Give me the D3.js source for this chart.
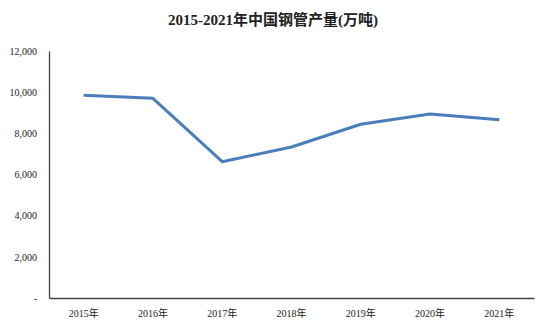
<!DOCTYPE html>
<html>
<head>
<meta charset="utf-8">
<script src="https://cdn.jsdelivr.net/npm/d3@7"></script>
<style>
  body { margin: 0; background: #fff; }
  text { font-family: "Liberation Serif", "Noto Sans CJK SC", serif; }
</style>
</head>
<body>
<div id="chart"></div>
<script>
// Data
const years = ['2015年', '2016年', '2017年', '2018年', '2019年', '2020年', '2021年'];
const output = [9848, 9702, 6622, 7336, 8439, 8939, 8662];
const yTicks = [0, 2000, 4000, 6000, 8000, 10000, 12000];

const width = 546;
const height = 322;
const margin = { top: 51, right: 12, bottom: 24, left: 49 };
const graphWidth = width - margin.left - margin.right;
const graphHeight = height - margin.top - margin.bottom;

const svg = d3.select('#chart')
  .append('svg')
  .attr('width', width)
  .attr('height', height);

svg.append('text')
  .attr('x', width / 2)
  .attr('y', 25)
  .attr('text-anchor', 'middle')
  .style('font-size', '15px')
  .style('font-weight', 'bold')
  .attr('fill', '#222')
  .text('2015-2021年中国钢管产量(万吨)');

const g = svg.append('g')
  .attr('transform', `translate(${margin.left},${margin.top})`);

const xScale = d3.scaleBand()
  .domain(years)
  .range([0, graphWidth]);

const yScale = d3.scaleLinear()
  .domain([0, 12000])
  .range([graphHeight, 0]);

const fmt = d => d === 0 ? '-' : d3.format(',')(d);

// Axes
g.append('g')
  .attr('transform', `translate(0,${graphHeight})`)
  .call(d3.axisBottom(xScale).tickSize(0).tickPadding(12))
  .call(a => a.select('.domain').attr('stroke', '#444').attr('stroke-width', 1.3))
  .call(a => a.selectAll('text').style('font-size', '10px').attr('fill', '#222').attr('font-family', '"Liberation Serif", "Noto Sans CJK SC", serif'));

g.append('g')
  .call(d3.axisLeft(yScale).tickValues(yTicks).tickFormat(fmt).tickSize(0).tickPadding(12))
  .call(a => a.select('.domain').attr('stroke', '#444').attr('stroke-width', 1.3))
  .call(a => a.selectAll('text').style('font-size', '10px').attr('fill', '#222').attr('font-family', '"Liberation Serif", serif'));

// Line
const line = d3.line()
  .x((d, i) => xScale(years[i]) + xScale.bandwidth() / 2)
  .y(d => yScale(d));

g.append('path')
  .datum(output)
  .attr('d', line)
  .attr('fill', 'none')
  .attr('stroke', '#4a7ebb')
  .attr('stroke-width', 3)
  .attr('stroke-linejoin', 'round');
</script>
</body>
</html>
